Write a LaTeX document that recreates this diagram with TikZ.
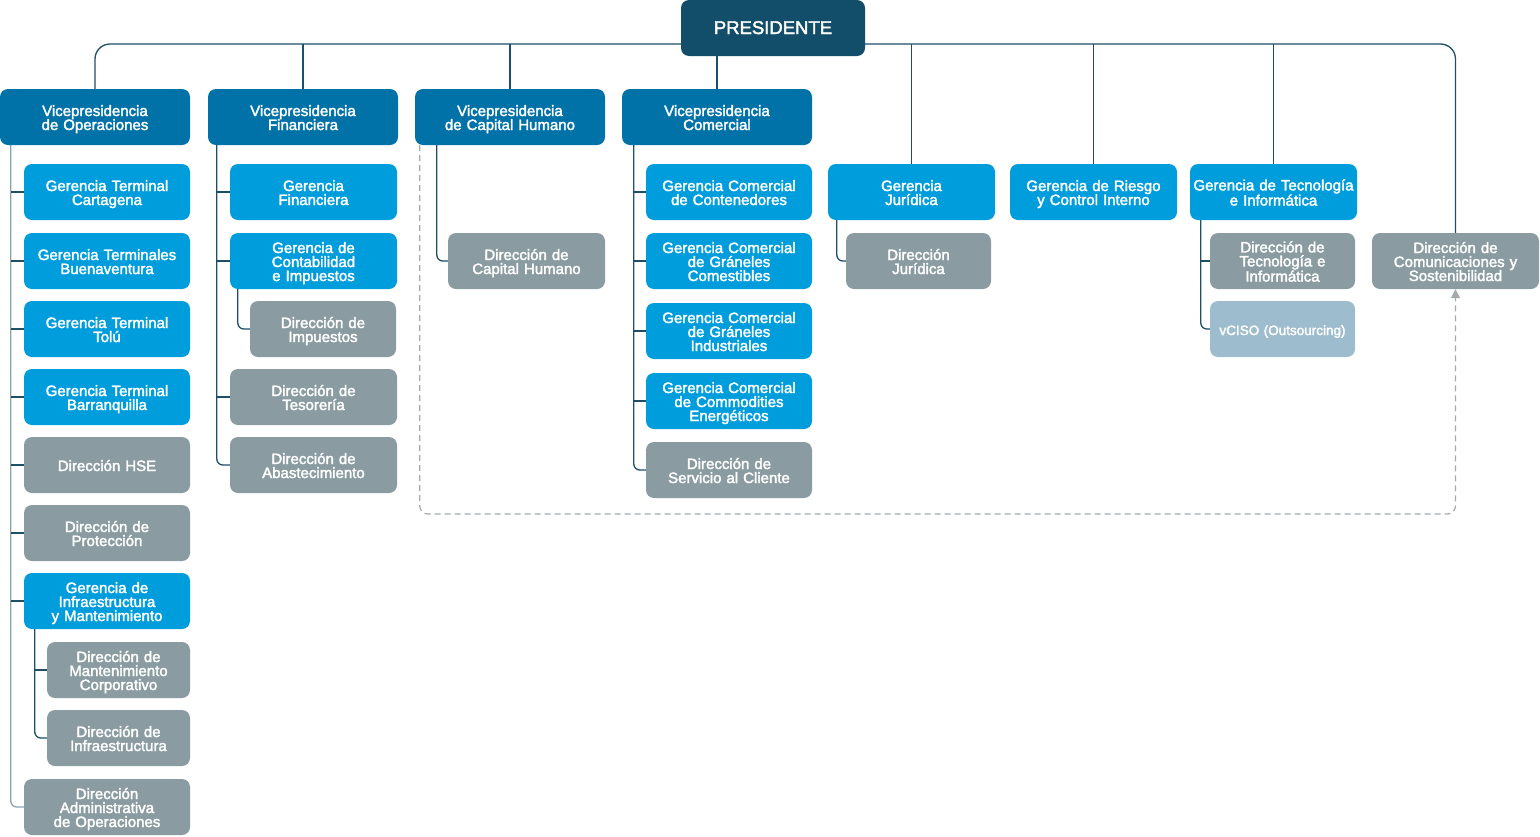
\documentclass[tikz,border=0pt]{standalone}
\usepackage{fontspec}
\setmainfont{Liberation Sans}
\newfontfamily\orgfont{Liberation Sans}[FakeBold=2.2]
\usetikzlibrary{arrows.meta,backgrounds}

\definecolor{presblue}{HTML}{124E69}
\definecolor{vpblue}{HTML}{0072A8}
\definecolor{gerblue}{HTML}{009DDC}
\definecolor{dirgray}{HTML}{8A9CA2}
\definecolor{outgray}{HTML}{9DBCCE}
\definecolor{linkdark}{HTML}{1D4F68}
\definecolor{linklight}{HTML}{8AA3AF}
\definecolor{dashgray}{HTML}{A3AAAE}

\tikzset{
  orgbox/.style={rounded corners=8pt, text=white, align=center, inner sep=2pt,
    minimum height=56pt, minimum width=#1, text width=#1-4pt,
    font=\orgfont\fontsize{15}{14}\selectfont,
    execute at begin node={\rule{0pt}{16pt}},
    execute at end node={\rule[-4pt]{0pt}{4pt}}},
  orgbox/.default=167pt,
  presbox/.style={orgbox=184pt, fill=presblue, font=\orgfont\fontsize{18.5}{18}\selectfont},
  vpbox/.style={orgbox=190pt, fill=vpblue},
  gerbox/.style={orgbox=#1, fill=gerblue},
  gerbox/.default=167pt,
  dirbox/.style={orgbox=#1, fill=dirgray},
  dirbox/.default=167pt,
  outbox/.style={orgbox=145pt, fill=outgray, font=\orgfont\fontsize{13.5}{14}\selectfont},
  link/.style={draw=linkdark, line width=1.3pt},
  trunk/.style={link, rounded corners=6pt},
  dashlink/.style={draw=dashgray, line width=1.2pt, dash pattern=on 6pt off 4pt,
    rounded corners=8pt, -{Triangle[width=9pt,length=9pt]}}
}

\begin{document}
\begin{tikzpicture}[x=1pt,y=-1pt]
  \useasboundingbox (0,0) rectangle (1540,836);

  %%%%% TOP %%%%%
  \node[presbox] (pres) at (773,28) {PRESIDENTE};
  \coordinate (busy) at (0,44);

  \node[vpbox] (vpops) at (95,117) {Vicepresidencia\\de Operaciones};
  \node[vpbox] (vpfin) at (303,117) {Vicepresidencia\\Financiera};
  \node[vpbox] (vpch) at (510,117) {Vicepresidencia\\de Capital Humano};
  \node[vpbox] (vpcom) at (717,117) {Vicepresidencia\\Comercial};

  \node[gerbox] (gjur) at (911.5,192) {Gerencia\\Jurídica};
  \node[gerbox] (grie) at (1093.5,192) {Gerencia de Riesgo\\y Control Interno};
  \node[gerbox] (gtec) at (1273.5,192) {Gerencia de Tecnología\\e Informática};
  \node[dirbox] (dcom) at (1455.5,261) {Dirección de\\Comunicaciones y\\Sostenibilidad};

  %%%%% OPERACIONES %%%%%
  \node[gerbox=166pt] (gtc) at (107,192) {Gerencia Terminal\\Cartagena};
  \node[gerbox=166pt] (gtb) at (107,261) {Gerencia Terminales\\Buenaventura};
  \node[gerbox=166pt] (gtt) at (107,329) {Gerencia Terminal\\Tolú};
  \node[gerbox=166pt] (gtbq) at (107,397) {Gerencia Terminal\\Barranquilla};
  \node[dirbox=166pt] (dhse) at (107,465) {Dirección HSE};
  \node[dirbox=166pt] (dpro) at (107,533) {Dirección de\\Protección};
  \node[gerbox=166pt] (ginf) at (107,601) {Gerencia de\\Infraestructura\\y Mantenimiento};
  \node[dirbox=143pt] (dmc) at (118.5,670) {Dirección de\\Mantenimiento\\Corporativo};
  \node[dirbox=143pt] (dinf) at (118.5,738) {Dirección de\\Infraestructura};
  \node[dirbox=166pt] (dadm) at (107,807) {Dirección\\Administrativa\\de Operaciones};

  %%%%% FINANCIERA %%%%%
  \node[gerbox] (gfin) at (313.5,192) {Gerencia\\Financiera};
  \node[gerbox] (gcon) at (313.5,261) {Gerencia de\\Contabilidad\\e Impuestos};
  \node[dirbox=146pt] (dimp) at (323,329) {Dirección de\\Impuestos};
  \node[dirbox] (dtes) at (313.5,397) {Dirección de\\Tesorería};
  \node[dirbox] (dabs) at (313.5,465) {Dirección de\\Abastecimiento};

  %%%%% CAPITAL HUMANO %%%%%
  \node[dirbox=157pt] (dch) at (526.5,261) {Dirección de\\Capital Humano};

  %%%%% COMERCIAL %%%%%
  \node[gerbox=166pt] (gcc) at (729,192) {Gerencia Comercial\\de Contenedores};
  \node[gerbox=166pt] (gcgc) at (729,261) {Gerencia Comercial\\de Gráneles\\Comestibles};
  \node[gerbox=166pt] (gcgi) at (729,331) {Gerencia Comercial\\de Gráneles\\Industriales};
  \node[gerbox=166pt] (gcce) at (729,401) {Gerencia Comercial\\de Commodities\\Energéticos};
  \node[dirbox=166pt] (dsc) at (729,470) {Dirección de\\Servicio al Cliente};

  %%%%% JURIDICA / TECNOLOGIA %%%%%
  \node[dirbox=145pt] (djur) at (918.5,261) {Dirección\\Jurídica};
  \node[dirbox=145pt] (dtec) at (1282.5,261) {Dirección de\\Tecnología e\\Informática};
  \node[outbox] (vciso) at (1282.5,329) {vCISO (Outsourcing)};

  \begin{scope}[on background layer]
    % bus from the president
    \draw[link, rounded corners=15pt] (vpops.north) |- (dcom.north |- busy) -- (dcom.north);
    \draw[link] (vpfin.north) -- (vpfin.north |- busy);
    \draw[link] (vpch.north) -- (vpch.north |- busy);
    \draw[link] (pres.south -| vpcom.north) -- (vpcom.north);
    \draw[link] (gjur.north) -- (gjur.north |- busy);
    \draw[link] (grie.north) -- (grie.north |- busy);
    \draw[link] (gtec.north) -- (gtec.north |- busy);

    % operaciones
    \coordinate (t1) at ([xshift=11pt]vpops.south west);
    \draw[trunk, draw=linklight] (t1) |- (dadm.west);
    \draw[link] (gtc.west) -- (gtc.west -| t1);
    \draw[link] (gtb.west) -- (gtb.west -| t1);
    \draw[link] (gtt.west) -- (gtt.west -| t1);
    \draw[link] (gtbq.west) -- (gtbq.west -| t1);
    \draw[link] (dhse.west) -- (dhse.west -| t1);
    \draw[link] (dpro.west) -- (dpro.west -| t1);
    \draw[link] (ginf.west) -- (ginf.west -| t1);
    \coordinate (t1b) at ([xshift=11pt]ginf.south west);
    \draw[trunk] (t1b) |- (dinf.west);
    \draw[link] (dmc.west) -- (dmc.west -| t1b);

    % financiera
    \coordinate (t2) at ([xshift=9pt]vpfin.south west);
    \draw[trunk] (t2) |- (dabs.west);
    \draw[link] (gfin.west) -- (gfin.west -| t2);
    \draw[link] (gcon.west) -- (gcon.west -| t2);
    \draw[link] (dtes.west) -- (dtes.west -| t2);
    \coordinate (t2b) at ([xshift=8pt]gcon.south west);
    \draw[trunk] (t2b) |- (dimp.west);

    % capital humano
    \coordinate (t3) at ([xshift=22pt]vpch.south west);
    \draw[trunk] (t3) |- (dch.west);

    % comercial
    \coordinate (t4) at ([xshift=12pt]vpcom.south west);
    \draw[trunk] (t4) |- (dsc.west);
    \draw[link] (gcc.west) -- (gcc.west -| t4);
    \draw[link] (gcgc.west) -- (gcgc.west -| t4);
    \draw[link] (gcgi.west) -- (gcgi.west -| t4);
    \draw[link] (gcce.west) -- (gcce.west -| t4);

    % juridica, tecnologia
    \coordinate (t5) at ([xshift=9pt]gjur.south west);
    \draw[trunk] (t5) |- (djur.west);
    \coordinate (t6) at ([xshift=11pt]gtec.south west);
    \draw[trunk] (t6) |- (vciso.west);
    \draw[link] (dtec.west) -- (dtec.west -| t6);
  \end{scope}

  % dashed link to comunicaciones
  \coordinate (dashy) at (0,514);
  \draw[dashlink] ([xshift=5pt]vpch.south west) |- (dcom.south |- dashy) -- (dcom.south);
\end{tikzpicture}
\end{document}
